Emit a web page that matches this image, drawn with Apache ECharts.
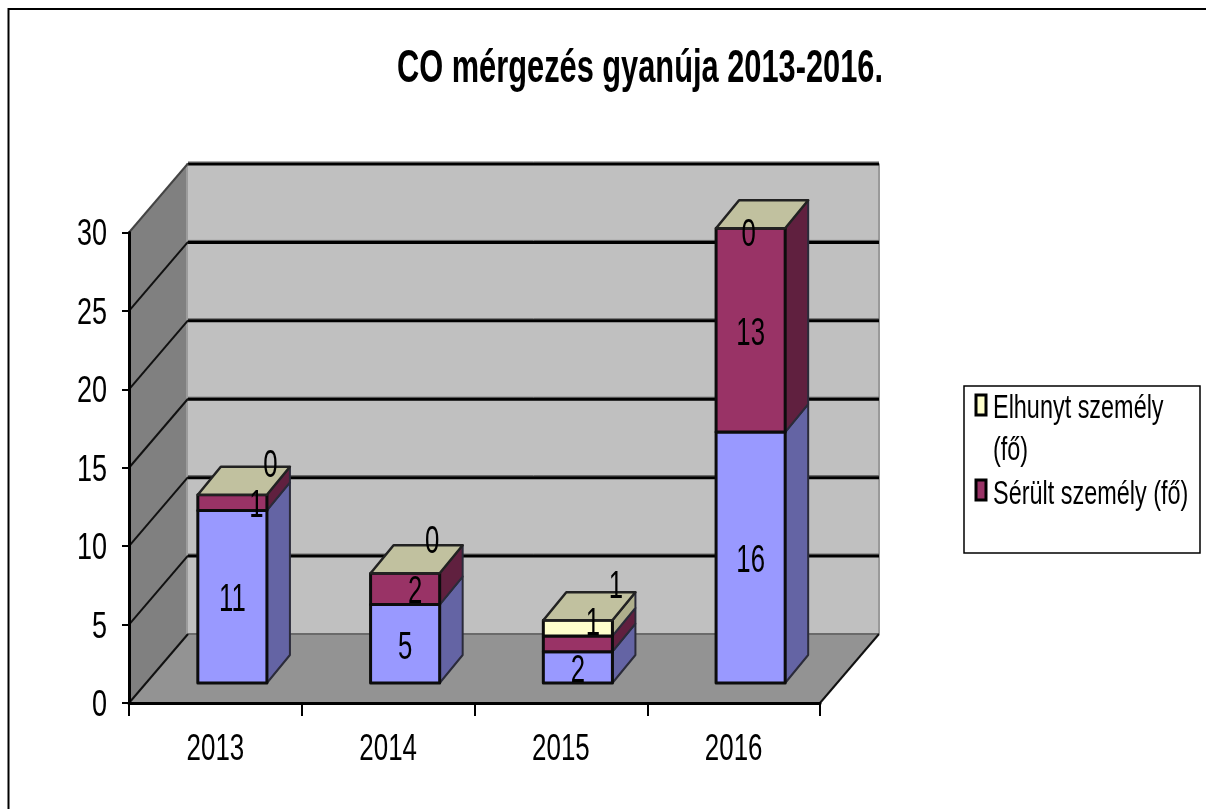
<!DOCTYPE html>
<html>
<head>
<meta charset="utf-8">
<style>html,body{margin:0;padding:0;background:#fff}#c{width:1206px;height:809px}</style>
<script src="https://cdn.jsdelivr.net/npm/echarts@6/dist/echarts.min.js"></script>
</head>
<body>
<div id="c"></div>
<script>
const categories = ['2013', '2014', '2015', '2016'];
const valueTicks = [0, 5, 10, 15, 20, 25, 30];
const firstLayer = [11, 5, 2, 16];
const injured = [1, 2, 1, 13];
const deceased = [0, 0, 1, 0];
const titleText = 'CO mérgezés gyanúja 2013-2016.';
const injuredName = 'Sérült személy (fő)';
const deceasedLines = ['Elhunyt személy', '(fő)'];

const FONT = '"Liberation Sans",Arial,sans-serif';
const WALL = { x: 59, y: -69 };
const BAR_FRONT = { x: 17, y: -20 };
const BAR_DEPTH = { x: 23, y: -28 };
const BAR_RATIO = 0.4;

// Hand-placed data labels in the original, relative to the centre of their front face
const nudgeFirst = [[0, 4], [0, 4], [0, 4], [0, 4]];
const nudgeInjured = [[24, 4], [10, 3], [15, -20], [0, 4]];
const nudgeDeceased = [[38, -29], [27, -31], [38, -41], [-2, 7]];

function poly(points, fill, stroke, lw, z2) {
  return { type: 'polygon', shape: { points }, z2: z2 || 0,
    style: { fill, stroke: stroke || 'none', lineWidth: lw || 0, lineJoin: 'round' } };
}
function seg(x1, y1, x2, y2, stroke, lw, z2) {
  return { type: 'line', shape: { x1, y1, x2, y2 }, z2: z2 || 1, style: { stroke, lineWidth: lw } };
}
// The original's type is a horizontally squeezed Arial: no narrow face is installed, so scale it.
function squeezed(text, x, y, size, sx, align, weight, z2) {
  return {
    type: 'text', x, y, scaleX: sx, scaleY: 1, z2: z2 || 100,
    style: { text, x: 0, y: 0, align: align || 'center', verticalAlign: 'middle',
      font: (weight ? weight + ' ' : '') + size + 'px ' + FONT, fill: '#000' }
  };
}

function renderWalls(params, api) {
  const c = params.coordSys;
  const L = c.x, R = c.x + c.width;
  const y0 = api.coord([0, 0])[1], yT = api.coord([0, 30])[1];
  const bL = L + WALL.x, bR = R + WALL.x;
  const kids = [
    poly([[bL, yT + WALL.y], [bR, yT + WALL.y], [bR, y0 + WALL.y], [bL, y0 + WALL.y]], '#c0c0c0'),
    poly([[L, yT], [bL, yT + WALL.y], [bL, y0 + WALL.y], [L, y0]], '#808080'),
    poly([[L, y0], [bL, y0 + WALL.y], [bR, y0 + WALL.y], [R, y0]], '#939393'),
    seg(bL - 1, yT + WALL.y, bL - 1, y0 + WALL.y, '#9c9c9c', 2),
    seg(bR, yT + WALL.y, bR, y0 + WALL.y, '#9a9a9a', 2),
    seg(bL, y0 + WALL.y, bR, y0 + WALL.y, '#6a6a6a', 2),
    seg(R, y0, bR, y0 + WALL.y, '#111', 2)
  ];
  valueTicks.forEach(function (t) {
    const y = api.coord([0, t])[1];
    if (t > 0) {
      kids.push(seg(bL, y + WALL.y - 1.5, bR, y + WALL.y - 1.5, '#5a5a5a', 1, 2));
      kids.push(seg(bL, y + WALL.y + 0.5, bR, y + WALL.y + 0.5, '#000', 3, 3));
    }
    kids.push(seg(L, y, bL, y + WALL.y, t === 30 ? '#444' : '#111', 2, 3));
    kids.push(squeezed(String(t), L - 22, y + 3, 36, 0.75, 'right'));
  });
  categories.forEach(function (name, i) {
    kids.push(squeezed(name, api.coord([i, 0])[0], y0 + 47, 37, 0.70));
  });
  return { type: 'group', children: kids };
}

function layerRenderer(front, side, top, nudges) {
  return function (params, api) {
    const i = api.value(0);
    const pb = api.coord([i, api.value(1)]);
    const pt = api.coord([i, api.value(2)]);
    const w = api.size([1, 0])[0] * BAR_RATIO;
    const xl = pb[0] + BAR_FRONT.x - w / 2, xr = xl + w;
    const yb = pb[1] + BAR_FRONT.y, yt = pt[1] + BAR_FRONT.y;
    const dx = BAR_DEPTH.x, dy = BAR_DEPTH.y;
    const kids = [];
    if (yb - yt > 0.1) {
      kids.push(poly([[xr, yb], [xr + dx, yb + dy], [xr + dx, yt + dy], [xr, yt]], side, '#2b2b3a', 2, 5));
      kids.push(poly([[xl, yb], [xr, yb], [xr, yt], [xl, yt]], front, '#0c0c0c', 3, 6));
    }
    if (top) {
      kids.push(poly([[xl, yt], [xr, yt], [xr + dx, yt + dy], [xl + dx, yt + dy]], top, '#222', 2.5, 7));
    }
    const n = nudges[i];
    kids.push(squeezed(String(api.value(3)), (xl + xr) / 2 + n[0], (yb + yt) / 2 + n[1], 39, 0.66));
    return { type: 'group', children: kids };
  };
}

function rows(values, below) {
  return values.map(function (v, i) {
    const base = below.reduce(function (s, arr) { return s + arr[i]; }, 0);
    return [i, base, base + v, v];
  });
}

function flatText(text, x, y, size, sx, weight) {
  return {
    type: 'text', silent: true, x, y, scaleX: sx, scaleY: 1,
    style: { text, x: 0, y: 0, align: 'left', verticalAlign: 'middle',
      font: (weight ? weight + ' ' : '') + size + 'px ' + FONT, fill: '#000' }
  };
}
function swatch(x, y, fill) {
  return { type: 'rect', silent: true, shape: { x, y, width: 10, height: 20 },
    style: { fill, stroke: '#000', lineWidth: 3 } };
}

const chart = echarts.init(document.getElementById('c'), null, { renderer: 'canvas' });

chart.setOption({
  animation: false,
  backgroundColor: '#fff',
  graphic: [
    { type: 'polyline', silent: true, shape: { points: [[8.5, 809], [8.5, 9], [1206, 9]] },
      style: { stroke: '#000', lineWidth: 2, fill: 'none' } },
    flatText(titleText, 397, 69, 47, 0.655, 'bold'),
    { type: 'rect', silent: true, shape: { x: 964, y: 386, width: 236, height: 167 },
      style: { stroke: '#000', lineWidth: 1.5, fill: '#fff' } },
    swatch(976, 395, '#ffffcc'),
    flatText(deceasedLines[0], 993, 409, 33, 0.71),
    flatText(deceasedLines[1], 993, 451, 33, 0.71),
    swatch(976, 480, '#993366'),
    flatText(injuredName, 993, 495, 33, 0.71)
  ],
  grid: { left: 129, top: 232.5, width: 691, height: 470.5 },
  xAxis: {
    type: 'category', data: categories, boundaryGap: true, z: 6,
    axisLine: { lineStyle: { color: '#000', width: 3 } },
    axisTick: { show: true, alignWithLabel: false, length: 13, lineStyle: { color: '#000', width: 2 } },
    axisLabel: { show: false }
  },
  yAxis: {
    type: 'value', min: 0, max: 30, interval: 5, z: 6,
    axisLine: { show: true, lineStyle: { color: '#000', width: 3 } },
    axisTick: { show: true, length: 7, lineStyle: { color: '#000', width: 2 } },
    axisLabel: { show: false },
    splitLine: { show: false }
  },
  series: [
    { type: 'custom', silent: true, z: 2, data: [[0]], encode: { x: 0 }, renderItem: renderWalls, clip: false },
    { type: 'custom', silent: true, z: 3, clip: false,
      encode: { x: 0, y: [1, 2] }, data: rows(firstLayer, []),
      renderItem: layerRenderer('#9999ff', '#6464a4', null, nudgeFirst) },
    { type: 'custom', silent: true, z: 3, clip: false, name: injuredName,
      encode: { x: 0, y: [1, 2] }, data: rows(injured, [firstLayer]),
      renderItem: layerRenderer('#993366', '#60203f', null, nudgeInjured) },
    { type: 'custom', silent: true, z: 3, clip: false, name: deceasedLines.join(' '),
      encode: { x: 0, y: [1, 2] }, data: rows(deceased, [firstLayer, injured]),
      renderItem: layerRenderer('#ffffcc', '#afaf8c', '#c1c19f', nudgeDeceased) }
  ]
});
</script>
</body>
</html>
